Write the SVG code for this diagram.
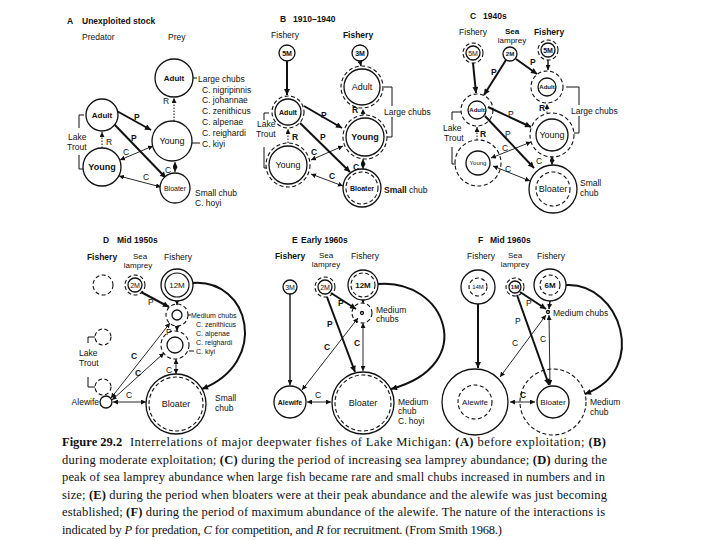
<svg xmlns="http://www.w3.org/2000/svg" width="720" height="540" viewBox="0 0 720 540">
<defs>
<style>
.t{font-family:"Liberation Sans",Arial,Helvetica,sans-serif;font-size:8.5px;fill:#111}
.s6{font-size:6px}.s7{font-size:7px}.s8{font-size:8px}.s9{font-size:9px}
.b{font-weight:bold}
.m{text-anchor:middle}
.e{text-anchor:end}
.cs{fill:#fff;stroke:#111;stroke-width:1.3}
.cn{fill:none;stroke:#111;stroke-width:1.2}
.cd{fill:none;stroke:#111;stroke-width:1.1;stroke-dasharray:4 2.5}
.ln{fill:none;stroke:#111}
.p{stroke-width:2}
.c{stroke-width:0.9}
.f{stroke-width:1.4}
.r{stroke-width:1;stroke-dasharray:1.5 1.5}
.k{fill:none;stroke:#111;stroke-width:1}
.cap{font-family:"Liberation Serif","Times New Roman",serif;font-size:12.5px;fill:#111}
</style>
<marker id="a" viewBox="0 0 6 6" refX="6" refY="3" markerWidth="5" markerHeight="5" markerUnits="userSpaceOnUse" orient="auto-start-reverse"><path d="M0,0 L6,3 L0,6 z" fill="#111"/></marker>
<marker id="A" viewBox="0 0 6 6" refX="6" refY="3" markerWidth="7" markerHeight="6" markerUnits="userSpaceOnUse" orient="auto-start-reverse"><path d="M0,0 L6,3 L0,6 z" fill="#111"/></marker>
</defs>
<rect width="720" height="540" fill="#fff"/>

<g id="connectors">
<!-- Panel A -->
<line class="ln p" x1="115" y1="110" x2="151" y2="130" marker-end="url(#A)"/>
<line class="ln p" x1="113" y1="123" x2="166" y2="178" marker-end="url(#A)"/>
<line class="ln c" x1="120" y1="160" x2="153" y2="146" marker-start="url(#a)" marker-end="url(#a)"/>
<line class="ln c" x1="119" y1="176" x2="161" y2="187" marker-start="url(#a)" marker-end="url(#a)"/>
<line class="ln c" x1="175" y1="162" x2="175" y2="172" marker-start="url(#a)" marker-end="url(#a)"/>
<line class="ln r" x1="174" y1="121" x2="174" y2="98" marker-end="url(#a)"/>
<line class="ln r" x1="102" y1="148" x2="102" y2="132" marker-end="url(#a)"/>
<!-- Panel B -->
<line class="ln p" x1="287" y1="61" x2="287" y2="95" marker-end="url(#A)"/>
<line class="ln f" x1="360" y1="61" x2="361" y2="66" marker-end="url(#a)"/>
<line class="ln p" x1="304" y1="106" x2="342" y2="128" marker-end="url(#A)"/>
<line class="ln p" x1="300" y1="123" x2="350" y2="172" marker-end="url(#A)"/>
<line class="ln c" x1="311" y1="160" x2="343" y2="146" marker-start="url(#a)" marker-end="url(#a)"/>
<line class="ln c" x1="311" y1="174" x2="343" y2="186" marker-start="url(#a)" marker-end="url(#a)"/>
<line class="ln c" x1="363" y1="159" x2="363" y2="169" marker-start="url(#a)" marker-end="url(#a)"/>
<line class="ln r" x1="288" y1="143" x2="288" y2="129" marker-end="url(#a)"/>
<line class="ln r" x1="363" y1="115" x2="363" y2="109" marker-end="url(#a)"/>
<!-- Panel C -->
<line class="ln p" x1="473" y1="63" x2="476" y2="93" marker-end="url(#A)"/>
<line class="ln p" x1="506" y1="60" x2="484" y2="95" marker-end="url(#A)"/>
<line class="ln p" x1="516" y1="59" x2="537" y2="74" marker-end="url(#A)"/>
<line class="ln f" x1="548" y1="60" x2="548" y2="70" marker-end="url(#a)"/>
<line class="ln p" x1="488" y1="107" x2="531" y2="127" marker-end="url(#A)"/>
<line class="ln p" x1="485" y1="116" x2="534" y2="168" marker-end="url(#A)"/>
<line class="ln c" x1="491" y1="158" x2="531" y2="142" marker-start="url(#a)" marker-end="url(#a)"/>
<line class="ln c" x1="493" y1="166" x2="530" y2="181" marker-start="url(#a)" marker-end="url(#a)"/>
<line class="ln c" x1="552" y1="156" x2="552" y2="165" marker-start="url(#a)" marker-end="url(#a)"/>
<line class="ln r" x1="547" y1="113" x2="547" y2="104" marker-end="url(#a)"/>
<line class="ln r" x1="477" y1="140" x2="477" y2="127" marker-end="url(#a)"/>
<!-- Panel D -->
<line class="ln p" x1="141" y1="292" x2="169" y2="307" marker-end="url(#A)"/>
<line class="ln f" x1="177" y1="301" x2="177" y2="305" marker-end="url(#a)"/>
<line class="ln f" x1="177" y1="326" x2="177" y2="331" marker-end="url(#a)"/>
<line class="ln c" x1="176" y1="359" x2="176" y2="374" marker-start="url(#a)" marker-end="url(#a)"/>
<line class="ln c" x1="111" y1="398" x2="170" y2="323" marker-start="url(#a)" marker-end="url(#a)"/>
<line class="ln c" x1="112" y1="400" x2="164" y2="353" marker-start="url(#a)" marker-end="url(#a)"/>
<line class="ln c" x1="113" y1="402" x2="146" y2="402" marker-start="url(#a)" marker-end="url(#a)"/>
<path class="ln p" d="M193,283 C250,279 270,362 202,389" marker-end="url(#A)"/>
<!-- Panel E -->
<line class="ln f" x1="290" y1="294" x2="290" y2="385" marker-end="url(#a)"/>
<line class="ln p" x1="331" y1="293" x2="356" y2="309" marker-end="url(#A)"/>
<line class="ln p" x1="327" y1="297" x2="355" y2="372" marker-end="url(#A)"/>
<line class="ln f" x1="363" y1="299" x2="363" y2="303" marker-end="url(#a)"/>
<line class="ln c" x1="363" y1="323" x2="363" y2="371" marker-start="url(#a)" marker-end="url(#a)"/>
<line class="ln c" x1="302" y1="390" x2="358" y2="318" marker-start="url(#a)" marker-end="url(#a)"/>
<line class="ln c" x1="307" y1="402" x2="331" y2="402" marker-start="url(#a)" marker-end="url(#a)"/>
<path class="ln p" d="M378,284 C445,278 480,365 391,389" marker-end="url(#A)"/>
<!-- Panel F -->
<line class="ln p" x1="478" y1="304" x2="478" y2="368" marker-end="url(#A)"/>
<line class="ln p" x1="520" y1="292" x2="546" y2="309" marker-end="url(#A)"/>
<line class="ln p" x1="517" y1="295" x2="549" y2="385" marker-end="url(#A)"/>
<line class="ln f" x1="550" y1="301" x2="549" y2="309" marker-end="url(#a)"/>
<line class="ln c" x1="549" y1="315" x2="550" y2="385" marker-start="url(#a)" marker-end="url(#a)"/>
<line class="ln c" x1="500" y1="377" x2="546" y2="315" marker-start="url(#a)" marker-end="url(#a)"/>
<line class="ln c" x1="510" y1="402" x2="535" y2="402" marker-start="url(#a)" marker-end="url(#a)"/>
<path class="ln p" d="M566,285 C620,282 650,370 585,394" marker-end="url(#A)"/>
</g>

<g id="brackets">
<path class="k" d="M193,78 H197"/>
<path class="k" d="M192,143 H200"/>
<path class="k" d="M84,115 H79 V128 M79,155 V169 H83"/>
<path class="k" d="M384,87 H392 V106 M392,117 V137 H387"/>
<path class="k" d="M269,113 H264 V120 M264,147 V168 H267"/>
<path class="k" d="M566,87 H579 V105 M579,116 V133 H574"/>
<path class="k" d="M461,112 H452 V120 M452,147 V164 H456"/>
<path class="k" d="M188,315 H191"/>
<path class="k" d="M189,351 H194"/>
<path class="k" d="M95,337 H88 V343 M88,377 V387 H95"/>
</g>

<g id="panel-A-labels">
<text class="t b" x="67" y="24">A</text>
<text class="t b" x="82" y="24">Unexploited stock</text>
<text class="t" x="82" y="40">Predator</text>
<text class="t" x="168" y="40">Prey</text>
<text class="t" x="198" y="82">Large chubs</text>
<text class="t" x="202" y="92.5">C. nigripinnis</text>
<text class="t" x="202" y="103">C. johannae</text>
<text class="t" x="202" y="114">C. zenithicus</text>
<text class="t" x="202" y="125">C. alpenae</text>
<text class="t" x="202" y="136">C. reighardi</text>
<text class="t" x="202" y="146.5">C. kiyi</text>
<text class="t" x="68" y="140">Lake</text>
<text class="t" x="67" y="150">Trout</text>
<text class="t" x="195" y="196">Small chub</text>
<text class="t" x="195" y="206">C. hoyi</text>
<text class="t b" x="134" y="120">P</text>
<text class="t b" x="131" y="141">P</text>
<text class="t" x="123" y="155">C</text>
<text class="t" x="143" y="180">C</text>
<text class="t" x="165" y="173">C</text>
<text class="t" x="163" y="104">R</text>
<text class="t" x="106" y="145">R</text>
</g>
<g id="A-lt-adult"><circle class="cs" cx="102" cy="115" r="16"/><text class="t s8 b m" x="102" y="118">Adult</text></g>
<g id="A-lt-young"><circle class="cs" cx="102" cy="167" r="19"/><text class="t s9 b m" x="102" y="170">Young</text></g>
<g id="A-adult"><circle class="cs" cx="174" cy="78" r="19"/><text class="t s8 b m" x="174" y="81">Adult</text></g>
<g id="A-young"><circle class="cs" cx="172" cy="141" r="20"/><text class="t s9 m" x="172" y="144">Young</text></g>
<g id="A-bloater"><circle class="cs" cx="175" cy="188" r="15"/><text class="t s7 m" x="175" y="190.5">Bloater</text></g>

<g id="panel-B-labels">
<text class="t b" x="280" y="22">B</text>
<text class="t b" x="293" y="22">1910–1940</text>
<text class="t m" x="285" y="38">Fishery</text>
<text class="t b m" x="358" y="38">Fishery</text>
<text class="t" x="384" y="115">Large chubs</text>
<text class="t" x="257" y="127">Lake</text>
<text class="t" x="256" y="137">Trout</text>
<text class="t" x="384" y="193"><tspan font-weight="bold">Small</tspan> chub</text>
<text class="t b" x="321" y="118">P</text>
<text class="t b" x="320" y="140">P</text>
<text class="t b" x="311" y="155">C</text>
<text class="t b" x="329" y="179">C</text>
<text class="t b" x="353" y="170">C</text>
<text class="t b" x="352" y="113">R</text>
<text class="t b" x="292" y="140">R</text>
</g>
<g id="B-fish1"><circle class="cs" cx="287" cy="53" r="8"/><text class="t s7 b m" x="287" y="55.5">5M</text></g>
<g id="B-fish2"><circle class="cs" cx="360" cy="53" r="8"/><text class="t s7 b m" x="360" y="55.5">3M</text></g>
<g id="B-lt-adult"><circle class="cs" cx="288" cy="112" r="13"/><circle class="cd" cx="288" cy="112" r="16"/><text class="t s7 b m" x="288" y="114.5">Adult</text></g>
<g id="B-lt-young"><circle class="cs" cx="288" cy="165" r="19"/><circle class="cd" cx="288" cy="165" r="22"/><text class="t s9 m" x="288" y="168">Young</text></g>
<g id="B-adult"><circle class="cs" cx="362" cy="87" r="18"/><circle class="cd" cx="362" cy="87" r="21"/><text class="t s9 m" x="362" y="90">Adult</text></g>
<g id="B-young"><circle class="cs" cx="365" cy="137" r="19"/><circle class="cd" cx="365" cy="137" r="22"/><text class="t s9 b m" x="365" y="140">Young</text></g>
<g id="B-bloater"><circle class="cs" cx="362" cy="188" r="19"/><circle class="cd" cx="362" cy="188" r="16"/><text class="t s7 b m" x="362" y="190.5">Bloater</text></g>

<g id="panel-C-labels">
<text class="t b" x="470" y="19">C</text>
<text class="t b" x="483" y="19">1940s</text>
<text class="t m" x="473" y="35">Fishery</text>
<text class="t s8 b m" x="512" y="34">Sea</text>
<text class="t s8 m" x="512" y="43">lamprey</text>
<text class="t b m" x="549" y="35">Fishery</text>
<text class="t" x="571" y="114">Large chubs</text>
<text class="t" x="443" y="131">Lake</text>
<text class="t" x="444" y="141">Trout</text>
<text class="t" x="580" y="186">Small</text>
<text class="t" x="580" y="196">chub</text>
<text class="t b" x="491" y="75">P</text>
<text class="t b" x="530" y="65">P</text>
<text class="t" x="508" y="117">P</text>
<text class="t" x="505" y="137">P</text>
<text class="t" x="502" y="151">C</text>
<text class="t" x="505" y="172">C</text>
<text class="t" x="536" y="164">C</text>
<text class="t b" x="539" y="111">R</text>
<text class="t b" x="480" y="137">R</text>
</g>
<g id="C-fish1"><circle class="cs" cx="473" cy="53" r="7"/><circle class="cd" cx="473" cy="53" r="10"/><text class="t s7 m" x="473" y="55.5">5M</text></g>
<g id="C-lamprey"><circle class="cs" cx="510" cy="54" r="7"/><text class="t s6 b m" x="510" y="56">2M</text></g>
<g id="C-fish2"><circle class="cs" cx="548" cy="50" r="7"/><circle class="cd" cx="548" cy="50" r="10"/><text class="t s7 b m" x="548" y="52.5">5M</text></g>
<g id="C-lt-adult"><circle class="cs" cx="477" cy="110" r="9"/><circle class="cd" cx="477" cy="110" r="16"/><text class="t s6 b m" x="477" y="112">Adult</text></g>
<g id="C-lt-young"><circle class="cs" cx="478" cy="163" r="12"/><circle class="cd" cx="478" cy="163" r="23"/><text class="t s6 m" x="478" y="165">Young</text></g>
<g id="C-adult"><circle class="cs" cx="547" cy="87" r="9"/><circle class="cd" cx="547" cy="87" r="16"/><text class="t s6 b m" x="547" y="89">Adult</text></g>
<g id="C-young"><circle class="cs" cx="552" cy="135" r="16"/><circle class="cd" cx="552" cy="135" r="22"/><text class="t s9 m" x="552" y="138">Young</text></g>
<g id="C-bloater"><circle class="cs" cx="553" cy="189" r="24"/><circle class="cd" cx="553" cy="189" r="17"/><text class="t s9 m" x="553" y="192">Bloater</text></g>

<g id="panel-D-labels">
<text class="t b" x="103" y="243">D</text>
<text class="t b" x="117" y="243">Mid 1950s</text>
<text class="t b m" x="102" y="260">Fishery</text>
<text class="t s8 m" x="140" y="259">Sea</text>
<text class="t s8 m" x="138" y="268">lamprey</text>
<text class="t m" x="178" y="260">Fishery</text>
<text class="t s7" x="191" y="318">Medium chubs</text>
<text class="t s7" x="196" y="327">C. zenithicus</text>
<text class="t s7" x="196" y="336">C. alpenae</text>
<text class="t s7" x="196" y="345">C. reighardi</text>
<text class="t s7" x="196" y="354">C. kiyi</text>
<text class="t" x="79" y="356">Lake</text>
<text class="t" x="79" y="366">Trout</text>
<text class="t e" x="99" y="405">Alewife</text>
<text class="t" x="215" y="401">Small</text>
<text class="t" x="215" y="411">chub</text>
<text class="t" x="148" y="305">P</text>
<text class="t" x="166" y="335">P</text>
<text class="t" x="166" y="373">C</text>
<text class="t b" x="131" y="359">C</text>
<text class="t b" x="135" y="376">C</text>
<text class="t" x="126" y="398">C</text>
</g>
<g id="D-fish1"><circle class="cd" cx="103" cy="285" r="10"/></g>
<g id="D-lamprey"><circle class="cs" cx="135" cy="285" r="7"/><circle class="cd" cx="135" cy="285" r="10"/><text class="t s7 m" x="135" y="287.5">2M</text></g>
<g id="D-fish2"><circle class="cs" cx="177" cy="285" r="16"/><circle class="cn" cx="177" cy="285" r="12"/><text class="t s8 m" x="177" y="288">12M</text></g>
<g id="D-medium1"><circle class="cd" cx="177" cy="315" r="11"/><circle class="cs" cx="177" cy="315" r="5"/></g>
<g id="D-medium2"><circle class="cd" cx="175" cy="345" r="14"/><circle class="cs" cx="175" cy="345" r="8"/></g>
<g id="D-lt-adult"><circle class="cd" cx="103" cy="337" r="8"/></g>
<g id="D-lt-young"><circle class="cd" cx="103" cy="387" r="8"/></g>
<g id="D-alewife"><circle class="cs" cx="106" cy="402" r="6"/></g>
<g id="D-bloater"><circle class="cs" cx="176" cy="404" r="30"/><circle class="cd" cx="176" cy="404" r="27"/><text class="t s9 m" x="176" y="407">Bloater</text></g>

<g id="panel-E-labels">
<text class="t b" x="292" y="243">E</text>
<text class="t b" x="301" y="243">Early 1960s</text>
<text class="t b m" x="290" y="259">Fishery</text>
<text class="t s8 m" x="326" y="258">Sea</text>
<text class="t s8 m" x="326" y="267">lamprey</text>
<text class="t m" x="365" y="259">Fishery</text>
<text class="t" x="376" y="313">Medium</text>
<text class="t" x="376" y="322">chubs</text>
<text class="t" x="398" y="405">Medium</text>
<text class="t" x="398" y="414">chub</text>
<text class="t" x="398" y="424">C. hoyi</text>
<text class="t b" x="338" y="306">P</text>
<text class="t b" x="327" y="327">P</text>
<text class="t b" x="354" y="346">C</text>
<text class="t b" x="324" y="350">C</text>
<text class="t" x="315" y="398">C</text>
</g>
<g id="E-fish1"><circle class="cs" cx="290" cy="287" r="7"/><text class="t s7 m" x="290" y="289.5">3M</text></g>
<g id="E-lamprey"><circle class="cs" cx="325" cy="287" r="7"/><circle class="cd" cx="325" cy="287" r="10"/><text class="t s7 m" x="325" y="289.5">2M</text></g>
<g id="E-fish2"><circle class="cs" cx="363" cy="285" r="15" stroke-width="1.6"/><circle class="cd" cx="363" cy="285" r="12"/><text class="t s8 b m" x="363" y="288">12M</text></g>
<g id="E-medium"><circle class="cd" cx="362" cy="313" r="10"/><circle class="cs" cx="362" cy="313" r="1.5"/></g>
<g id="E-alewife"><circle class="cs" cx="290" cy="402" r="16"/><text class="t s7 b m" x="290" y="404.5">Alewife</text></g>
<g id="E-bloater"><circle class="cs" cx="363" cy="403" r="31"/><circle class="cd" cx="363" cy="403" r="28"/><text class="t s9 m" x="363" y="406">Bloater</text></g>

<g id="panel-F-labels">
<text class="t b" x="478" y="243">F</text>
<text class="t b" x="490" y="243">Mid 1960s</text>
<text class="t m" x="481" y="259">Fishery</text>
<text class="t s8 m" x="515" y="258">Sea</text>
<text class="t s8 m" x="515" y="267">lamprey</text>
<text class="t m" x="551" y="259">Fishery</text>
<text class="t" x="553" y="316">Medium chubs</text>
<text class="t" x="590" y="405">Medium</text>
<text class="t" x="590" y="415">chub</text>
<text class="t" x="526" y="306">P</text>
<text class="t" x="515" y="324">P</text>
<text class="t" x="540" y="342">C</text>
<text class="t" x="512" y="346">C</text>
<text class="t b" x="520" y="398">C</text>
</g>
<g id="F-fish1"><circle class="cs" cx="478" cy="287" r="17"/><circle class="cd" cx="478" cy="287" r="9"/><text class="t s6 m" x="478" y="289">14M</text></g>
<g id="F-lamprey"><circle class="cs" cx="515" cy="287" r="6"/><circle class="cd" cx="515" cy="287" r="9"/><text class="t s6 b m" x="515" y="289">1M</text></g>
<g id="F-fish2"><circle class="cs" cx="550" cy="285" r="16"/><circle class="cd" cx="550" cy="285" r="10"/><text class="t s8 b m" x="550" y="288">6M</text></g>
<g id="F-medium"><circle class="cs" cx="548" cy="312" r="1.5"/></g>
<g id="F-alewife"><circle class="cs" cx="475" cy="402" r="33"/><circle class="cd" cx="475" cy="402" r="17"/><text class="t s8 m" x="475" y="405">Alewife</text></g>
<g id="F-bloater"><circle class="cd" cx="553" cy="402" r="33"/><circle class="cs" cx="553" cy="402" r="16"/><text class="t s8 m" x="553" y="405">Bloater</text></g>

<g id="caption">
<text class="cap" x="62" y="446" font-weight="bold">Figure 29.2</text>
<text class="cap" x="130" y="446" textLength="476" lengthAdjust="spacing">Interrelations of major deepwater fishes of Lake Michigan: <tspan font-weight="bold">(A)</tspan> before exploitation; <tspan font-weight="bold">(B)</tspan></text>
<text class="cap" x="62" y="463.5" textLength="545" lengthAdjust="spacing">during moderate exploitation; <tspan font-weight="bold">(C)</tspan> during the period of increasing sea lamprey abundance; <tspan font-weight="bold">(D)</tspan> during the</text>
<text class="cap" x="62" y="481" textLength="543" lengthAdjust="spacing">peak of sea lamprey abundance when large fish became rare and small chubs increased in numbers and in</text>
<text class="cap" x="62" y="498.5" textLength="545" lengthAdjust="spacing">size; <tspan font-weight="bold">(E)</tspan> during the period when bloaters were at their peak abundance and the alewife was just becoming</text>
<text class="cap" x="62" y="516" textLength="543" lengthAdjust="spacing">established; <tspan font-weight="bold">(F)</tspan> during the period of maximum abundance of the alewife. The nature of the interactions is</text>
<text class="cap" x="62" y="533.5" textLength="440" lengthAdjust="spacing">indicated by <tspan font-style="italic">P</tspan> for predation, <tspan font-style="italic">C</tspan> for competition, and <tspan font-style="italic">R</tspan> for recruitment. (From Smith 1968.)</text>
</g>
</svg>
